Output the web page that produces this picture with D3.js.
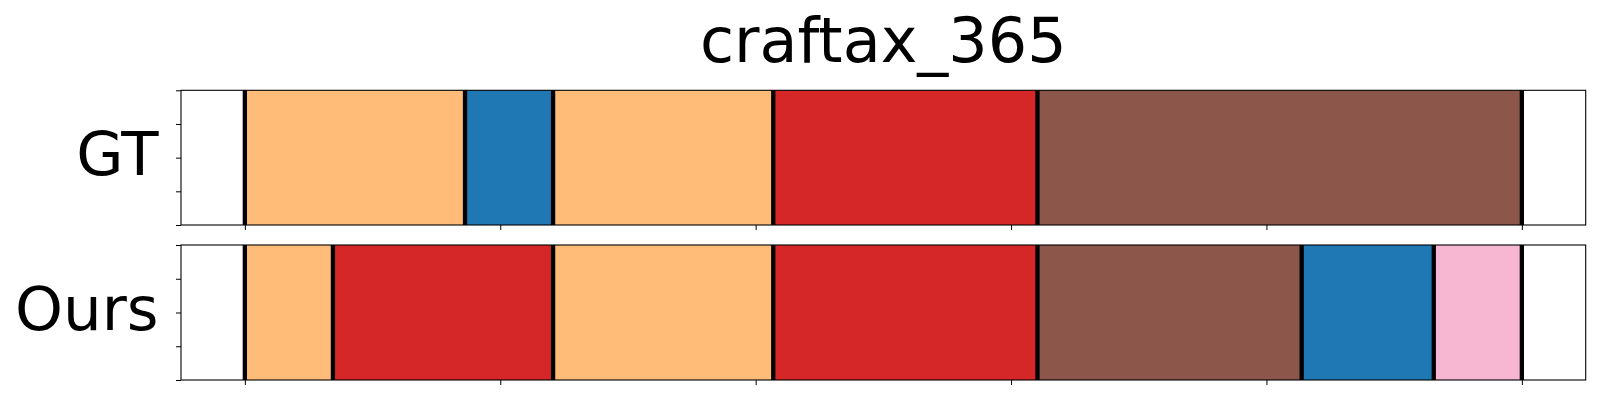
<!DOCTYPE html>
<html>
<head>
<meta charset="utf-8">
<script src="https://cdn.jsdelivr.net/npm/d3@7"></script>
<style>
  html, body { margin: 0; padding: 0; background: #fff; }
  svg { display: block; font-family: "DejaVu Sans", sans-serif; }
</style>
</head>
<body>
<svg id="chart" width="1600" height="400"></svg>
<script>
// ---- data ----
const title = "craftax_365";
const rowNames = ["GT", "Ours"];
const totalSteps = 29;
const classNames = ["A", "B", "C", "D", "E"];
const classColors = ["#ffbb78", "#1f77b4", "#d62728", "#8c564b", "#f7b6d2"];

const gtStarts = [0, 5, 7, 12, 18];
const gtEnds = [5, 7, 12, 18, 29];
const gtClasses = ["A", "B", "A", "C", "D"];

const oursStarts = [0, 2, 7, 12, 18, 24, 27];
const oursEnds = [2, 7, 12, 18, 24, 27, 29];
const oursClasses = ["A", "C", "A", "C", "D", "B", "E"];

const xTicks = [0, 0.2, 0.4, 0.6, 0.8, 1.0];
const yTicks = [0, 0.25, 0.5, 0.75, 1.0];

// ---- layout ----
const svg = d3.select("#chart");
const left = 181, right = 1585.7;
const panels = [
  { name: rowNames[0], top: 90.3, bottom: 225, starts: gtStarts, ends: gtEnds, classes: gtClasses },
  { name: rowNames[1], top: 245, bottom: 380, starts: oursStarts, ends: oursEnds, classes: oursClasses }
];

const x = d3.scaleLinear().domain([-0.05, 1.05]).range([left, right]);
const color = d3.scaleOrdinal().domain(classNames).range(classColors);

svg.append("text")
  .attr("x", (left + right) / 2)
  .attr("y", 62)
  .attr("text-anchor", "middle")
  .attr("font-size", 62)
  .attr("fill", "#000")
  .text(title);

panels.forEach(p => {
  const y = d3.scaleLinear().domain([0, 1]).range([p.bottom, p.top]);
  const g = svg.append("g");
  const segs = p.starts.map((s, i) => ({ s: s / totalSteps, e: p.ends[i] / totalSteps, c: p.classes[i] }));

  g.selectAll("rect.seg").data(segs).enter().append("rect")
    .attr("class", "seg")
    .attr("x", d => x(d.s))
    .attr("width", d => x(d.e) - x(d.s))
    .attr("y", y(1))
    .attr("height", y(0) - y(1))
    .attr("fill", d => color(d.c));

  const bounds = Array.from(new Set(p.starts.concat(p.ends))).map(b => b / totalSteps);
  g.selectAll("line.bound").data(bounds).enter().append("line")
    .attr("class", "bound")
    .attr("x1", d => x(d)).attr("x2", d => x(d))
    .attr("y1", y(1)).attr("y2", y(0))
    .attr("stroke", "#000")
    .attr("stroke-width", 4.3);

  // axes
  const xAxis = d3.axisBottom(x).tickValues(xTicks).tickSize(5).tickFormat("");
  const yAxis = d3.axisLeft(y).tickValues(yTicks).tickSize(5).tickFormat("");
  const gx = g.append("g").attr("transform", `translate(0,${p.bottom})`).call(xAxis);
  const gy = g.append("g").attr("transform", `translate(${left},0)`).call(yAxis);
  [gx, gy].forEach(a => {
    a.select(".domain").remove();
    a.selectAll(".tick line").attr("stroke", "#000").attr("stroke-width", 1);
  });

  g.append("rect")
    .attr("x", left).attr("y", p.top)
    .attr("width", right - left).attr("height", p.bottom - p.top)
    .attr("fill", "none").attr("stroke", "#000").attr("stroke-width", 1.1);

  svg.append("text")
    .attr("x", 158.5)
    .attr("y", (p.top + p.bottom) / 2 + 17.5)
    .attr("text-anchor", "end")
    .attr("font-size", 61)
    .attr("fill", "#000")
    .text(p.name);
});
</script>
</body>
</html>
